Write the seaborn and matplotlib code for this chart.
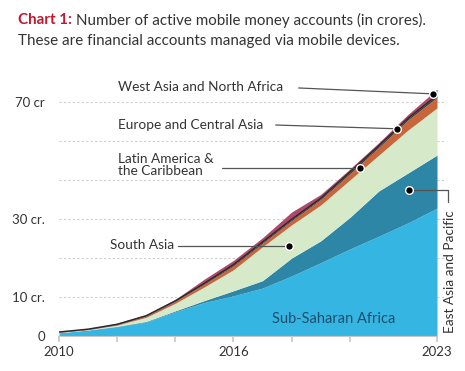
import numpy as np
import pandas as pd
import matplotlib
matplotlib.use("Agg")
import matplotlib.pyplot as plt
import seaborn as sns

years = list(range(2010, 2024))
# active accounts per region, crores
ssa = [0.8, 1.5, 2.4, 3.6, 6.2, 8.6, 10.3, 12.3, 15.4, 18.8, 22.3, 25.6, 29.0, 32.8]
eap = [0.05, 0.05, 0.1, 0.15, 0.25, 0.5, 1.3, 1.9, 4.6, 5.6, 8.1, 11.6, 12.8, 13.6]
sa = [0.1, 0.1, 0.3, 1.05, 1.95, 3.5, 5.4, 8.7, 8.5, 9.2, 9.6, 9.2, 11.0, 12.1]
lac = [0.05, 0.07, 0.15, 0.3, 0.5, 0.7, 1.0, 0.9, 1.1, 1.4, 1.6, 2.0, 2.6, 2.7]
eca = [0.02, 0.03, 0.05, 0.1, 0.1, 0.2, 0.3, 0.3, 0.3, 0.3, 0.4, 0.4, 0.4, 0.5]
mena = [0.08, 0.1, 0.3, 0.3, 0.4, 1.1, 1.1, 1.1, 1.9, 1.0, 0.8, 0.8, 1.0, 1.6]

colors = ["#35b6e2", "#2e86a6", "#d6e9c9", "#c9653b", "#3a3a3a", "#ad4a6c"]

df = pd.DataFrame({"year": years, "ssa": ssa, "eap": eap, "sa": sa,
                   "lac": lac, "eca": eca, "mena": mena})
cum = df[["ssa", "eap", "sa", "lac", "eca", "mena"]].cumsum(axis=1)
df["eca_top"] = cum["eca"]

sns.set_theme(style="white")
plt.rcParams["font.family"] = ["Lato", "DejaVu Sans"]

fig = plt.figure(figsize=(4.65, 3.71), dpi=100)
ax = fig.add_axes([0.1269, 0.0943, 0.8129, 0.6938])

ax.stackplot(df["year"], df["ssa"], df["eap"], df["sa"], df["lac"], df["eca"],
             df["mena"], colors=colors, linewidth=0)
sns.lineplot(data=df, x="year", y="eca_top", color="#2b2b2b", lw=1.1, ax=ax,
             legend=False)

ax.set_xlim(2010, 2023)
ax.set_ylim(0, 66)

for v in range(10, 70, 10):
    ax.hlines(v, 2010, 2023.3, colors="#cfcfcf", lw=0.8, linestyles=(0, (2, 2)),
              zorder=0.5, clip_on=False)

ax.set_xticks([2010, 2012, 2014, 2016, 2018, 2020, 2023])
ax.set_xticklabels(["2010", "", "", "2016", "", "", "2023"])
ax.set_yticks([0, 10, 30, 60])
ax.set_yticklabels(["0", "10 cr.", "30 cr.", "70 cr"])
ax.tick_params(axis="x", length=4, color="#c8c8c8", labelsize=9.5,
               labelcolor="#333333", pad=3, bottom=True)
ax.tick_params(axis="y", length=0, labelsize=9.5, labelcolor="#333333", pad=10)
for s in ["top", "right", "left"]:
    ax.spines[s].set_visible(False)
ax.spines["bottom"].set_color("#c8c8c8")
ax.spines["bottom"].set_linewidth(0.8)
ax.set_xlabel("")
ax.set_ylabel("")

total = cum["mena"].values
lac_mid = (cum["sa"].values + cum["lac"].values) / 2
eca_top = cum["eca"].values

lab_kw = dict(fontsize=9.8, color="#333333", va="center")
line_kw = dict(color="#555555", lw=0.9)
dot_kw = dict(marker="o", ms=5.5, mfc="black", mec="white", mew=1.0, zorder=5,
              clip_on=False)

# West Asia and North Africa
x = 2022.86
y = np.interp(x, years, total) - 0.3
ax.text(2012.03, 63.8, "West Asia and North Africa", **lab_kw)
ax.plot([2018.24, x], [63.6, y], **line_kw)
ax.plot(x, y, **dot_kw)

# Europe and Central Asia
x = 2021.62
y = np.interp(x, years, eca_top)
ax.text(2012.03, 54.1, "Europe and Central Asia", **lab_kw)
ax.plot([2017.45, x], [54.1, y], **line_kw)
ax.plot(x, y, **dot_kw)

# Latin America & the Caribbean
x = 2020.34
y = np.interp(x, years, lac_mid)
ax.text(2012.03, 43.9, "Latin America &\nthe Caribbean", linespacing=1.05, **lab_kw)
ax.plot([2015.62, x], [y, y], **line_kw)
ax.plot(x, y, **dot_kw)

# South Asia
ax.text(2013.97, 23.3, "South Asia", ha="right", **lab_kw)
ax.plot([2014.1, 2017.9], [23.2, 23.2], **line_kw)
ax.plot(2017.9, 23.2, **dot_kw)

# East Asia and Pacific
ax.plot([2022.03, 2023.38, 2023.38], [37.4, 37.4, 34.4], clip_on=False, **line_kw)
ax.plot(2022.03, 37.4, **dot_kw)
ax.text(2023.43, 0.8, "East Asia and Pacific", rotation=90, ha="center",
        va="bottom", fontsize=9.8, color="#333333", clip_on=False)

ax.text(2019.45, 4.4, "Sub-Saharan Africa", ha="center", va="center",
        fontsize=10.5, color="#1d4e6d")

# title: bold red prefix followed by regular text
t1 = fig.text(18 / 465, 1 - 20 / 371, "Chart 1:", fontsize=10.9,
              fontweight="bold", color="#c0182f", va="center", ha="left")
fig.canvas.draw()
bb = t1.get_window_extent()
x_after = (bb.x1 + 4) / fig.bbox.width
fig.text(x_after, 1 - 20 / 371, "Number of active mobile money accounts (in crores).",
         fontsize=10.9, color="#333333", va="center", ha="left")
fig.text(18 / 465, 1 - 41 / 371, "These are financial accounts managed via mobile devices.",
         fontsize=10.9, color="#333333", va="center", ha="left")

fig.savefig("out.png", dpi=100)
